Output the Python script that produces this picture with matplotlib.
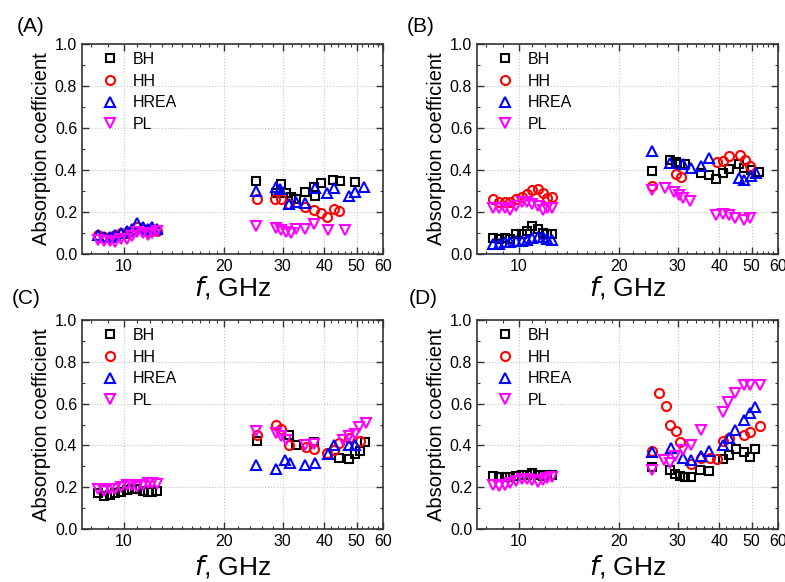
import numpy as np
import matplotlib
matplotlib.use('Agg')
import matplotlib.pyplot as plt
from matplotlib.ticker import FixedLocator, FixedFormatter, NullFormatter, MultipleLocator, FormatStrFormatter

plt.rcParams['font.family'] = ['Liberation Sans', 'DejaVu Sans']

# X-band frequencies (GHz), shared by all low-band series
LOW_F = [8.4, 8.75, 9.1, 9.45, 9.8, 10.2, 10.6, 11.0, 11.4, 11.8, 12.2, 12.6]

# (A)
A_BH_f = [25.0, 28.6, 29.6, 30.6, 31.7, 32.8, 34.9, 37.2, 37.5, 39.2, 42.5, 44.5, 49.6]
A_BH = [0.348, 0.29, 0.334, 0.29, 0.27, 0.26, 0.296, 0.32, 0.277, 0.337, 0.353, 0.348, 0.345]
A_HH_f = LOW_F + [25.2, 28.5, 29.7, 31.4, 35.0, 37.2, 39.2, 40.8, 42.8, 44.3]
A_HH = [0.09, 0.08, 0.08, 0.09, 0.10, 0.10, 0.11, 0.13, 0.12, 0.11, 0.12, 0.11] + \
       [0.262, 0.264, 0.264, 0.237, 0.225, 0.211, 0.195, 0.178, 0.212, 0.205]
A_HREA_f = LOW_F + [25.0, 28.6, 29.5, 31.4, 32.8, 35.0, 37.4, 40.8, 42.8, 47.6, 49.5, 52.8]
A_HREA = [0.09, 0.08, 0.08, 0.09, 0.10, 0.11, 0.12, 0.15, 0.13, 0.12, 0.13, 0.12] + \
         [0.30, 0.32, 0.31, 0.24, 0.25, 0.245, 0.315, 0.29, 0.315, 0.275, 0.295, 0.32]
A_PL_f = LOW_F + [25.0, 28.6, 29.6, 30.6, 31.7, 32.8, 34.9, 37.2, 41.0, 46.0]
A_PL = [0.065, 0.06, 0.06, 0.055, 0.07, 0.07, 0.085, 0.105, 0.10, 0.09, 0.10, 0.11] + \
       [0.135, 0.126, 0.113, 0.105, 0.10, 0.12, 0.118, 0.145, 0.114, 0.114]

# (B)
B_BH_f = LOW_F + [25.2, 28.5, 29.6, 30.4, 31.5, 35.2, 37.2, 39.2, 41.0, 42.7, 45.8, 47.6, 49.9, 52.8]
B_BH = [0.075, 0.07, 0.075, 0.07, 0.095, 0.095, 0.11, 0.135, 0.12, 0.10, 0.095, 0.095] + \
       [0.397, 0.448, 0.44, 0.43, 0.43, 0.387, 0.376, 0.357, 0.387, 0.405, 0.427, 0.41, 0.40, 0.392]
B_HH_f = LOW_F + [25.2, 29.6, 30.6, 39.5, 41.0, 42.8, 46.0, 47.9, 49.6]
B_HH = [0.26, 0.25, 0.25, 0.25, 0.26, 0.27, 0.285, 0.305, 0.31, 0.29, 0.265, 0.27] + \
       [0.325, 0.38, 0.365, 0.44, 0.445, 0.465, 0.47, 0.45, 0.42]
B_HREA_f = LOW_F + [25.2, 28.5, 31.2, 32.8, 35.2, 37.2, 45.8, 47.6, 49.9, 51.5]
B_HREA = [0.05, 0.05, 0.055, 0.055, 0.06, 0.06, 0.065, 0.075, 0.08, 0.08, 0.07, 0.065] + \
         [0.49, 0.432, 0.43, 0.41, 0.42, 0.456, 0.36, 0.352, 0.37, 0.385]
B_PL_f = LOW_F + [25.2, 27.4, 29.2, 30.3, 31.2, 32.7, 39.0, 41.0, 42.7, 44.6, 47.6, 49.6]
B_PL = [0.22, 0.22, 0.22, 0.21, 0.23, 0.25, 0.25, 0.24, 0.23, 0.21, 0.22, 0.22] + \
       [0.305, 0.316, 0.297, 0.28, 0.265, 0.252, 0.186, 0.19, 0.186, 0.173, 0.162, 0.173]

# (C)
C_BH_f = LOW_F + [25.2, 31.4, 32.8, 37.2, 44.2, 47.6, 49.3, 51.1, 53.1]
C_BH = [0.17, 0.16, 0.165, 0.17, 0.175, 0.185, 0.19, 0.19, 0.18, 0.175, 0.175, 0.18] + \
       [0.42, 0.448, 0.40, 0.416, 0.341, 0.336, 0.36, 0.373, 0.416]
C_HH_f = [25.2, 28.6, 29.6, 31.4, 35.2, 37.2, 40.8, 42.7, 44.2, 47.6, 51.2]
C_HH = [0.448, 0.50, 0.48, 0.40, 0.392, 0.385, 0.363, 0.376, 0.41, 0.437, 0.42]
C_HREA_f = [25.0, 28.6, 30.4, 31.5, 35.0, 37.4, 41.0, 42.8, 47.3, 49.6]
C_HREA = [0.307, 0.287, 0.328, 0.315, 0.307, 0.315, 0.36, 0.403, 0.403, 0.403]
C_PL_f = LOW_F + [25.0, 28.6, 29.6, 30.7, 35.0, 37.2, 45.6, 47.3, 49.5, 51.0, 53.2]
C_PL = [0.19, 0.18, 0.19, 0.19, 0.20, 0.21, 0.21, 0.20, 0.21, 0.22, 0.22, 0.215] + \
       [0.47, 0.459, 0.447, 0.424, 0.40, 0.405, 0.424, 0.443, 0.455, 0.487, 0.506]

# (D)
D_BH_f = LOW_F + [25.2, 28.5, 29.4, 30.4, 31.5, 32.8, 35.0, 37.2, 41.0, 42.8, 44.8, 47.6, 49.6, 51.3]
D_BH = [0.255, 0.25, 0.25, 0.25, 0.255, 0.26, 0.26, 0.27, 0.26, 0.255, 0.26, 0.26] + \
       [0.295, 0.284, 0.263, 0.252, 0.25, 0.25, 0.28, 0.276, 0.336, 0.355, 0.384, 0.367, 0.344, 0.384]
D_HH_f = [25.2, 26.3, 27.6, 28.5, 29.6, 30.4, 32.8, 35.2, 37.4, 39.4, 41.0, 42.8, 47.6, 49.6, 53.0]
D_HH = [0.371, 0.649, 0.589, 0.498, 0.471, 0.414, 0.313, 0.34, 0.34, 0.336, 0.42, 0.435, 0.448, 0.463, 0.494]
D_HREA_f = [25.2, 28.6, 31.2, 32.8, 35.2, 37.2, 41.0, 42.8, 44.6, 47.6, 49.6, 51.3]
D_HREA = [0.367, 0.387, 0.34, 0.329, 0.35, 0.375, 0.40, 0.435, 0.475, 0.522, 0.554, 0.586]
D_PL_f = LOW_F + [25.2, 27.3, 28.5, 29.4, 31.2, 32.8, 35.2, 41.0, 42.6, 44.6, 47.6, 49.6, 53.0]
D_PL = [0.21, 0.205, 0.21, 0.22, 0.23, 0.24, 0.24, 0.235, 0.225, 0.235, 0.245, 0.25] + \
       [0.284, 0.332, 0.316, 0.348, 0.38, 0.40, 0.475, 0.56, 0.61, 0.652, 0.689, 0.689, 0.689]

SERIES = ['BH', 'HH', 'HREA', 'PL']
MARKERS = ['s', 'o', '^', 'v']
MSIZES = [6.0, 6.5, 7.5, 7.5]
COLORS = ['black', 'red', 'blue', 'magenta']
PANELS = [
    ('(A)', [(A_BH_f, A_BH), (A_HH_f, A_HH), (A_HREA_f, A_HREA), (A_PL_f, A_PL)]),
    ('(B)', [(B_BH_f, B_BH), (B_HH_f, B_HH), (B_HREA_f, B_HREA), (B_PL_f, B_PL)]),
    ('(C)', [(C_BH_f, C_BH), (C_HH_f, C_HH), (C_HREA_f, C_HREA), (C_PL_f, C_PL)]),
    ('(D)', [(D_BH_f, D_BH), (D_HH_f, D_HH), (D_HREA_f, D_HREA), (D_PL_f, D_PL)]),
]

fig = plt.figure(figsize=(7.85, 5.82), dpi=100)
W, H = 785.0, 582.0
# axes boxes in pixels: left, top, width, height
boxes = [(82, 44, 301, 210), (477, 44, 301, 210), (82, 320, 301, 209), (477, 320, 301, 209)]
label_pos = [(17, 27), (407, 27), (12, 298), (409, 298)]
xlabel_pad = [0, 0, 3, 3]

for (name, data), (l, t, w, h), (lx, ly), pad in zip(PANELS, boxes, label_pos, xlabel_pad):
    ax = fig.add_axes([l / W, 1 - (t + h) / H, w / W, h / H])
    ax.set_xscale('log')
    for (f, y), lab, m, ms, c in zip(data, SERIES, MARKERS, MSIZES, COLORS):
        ax.plot(f, y, linestyle='none', marker=m, ms=ms, mfc='none', mec=c, mew=1.5, label=lab)
    ax.set_xlim(7.5, 60)
    ax.set_ylim(0, 1.0)
    ax.xaxis.set_major_locator(FixedLocator([10, 20, 30, 40, 50, 60]))
    ax.xaxis.set_minor_locator(FixedLocator([8, 9, 11, 12, 13, 14, 15, 16, 17, 18, 19,
                                             22, 24, 26, 28, 32, 34, 36, 38, 42, 44, 46, 48,
                                             52, 54, 56, 58]))
    ax.xaxis.set_major_formatter(FixedFormatter(['10', '20', '30', '40', '50', '60']))
    ax.xaxis.set_minor_formatter(NullFormatter())
    ax.yaxis.set_major_locator(MultipleLocator(0.2))
    ax.yaxis.set_minor_locator(MultipleLocator(0.1))
    ax.yaxis.set_major_formatter(FormatStrFormatter('%.1f'))
    ax.tick_params(which='both', direction='in', top=True, right=True, labelsize=11.5,
                   colors='#333333', labelcolor='black')
    ax.tick_params(which='major', length=5, width=1)
    ax.tick_params(which='minor', length=2.5, width=0.8)
    for sp in ax.spines.values():
        sp.set_color('#333333')
        sp.set_linewidth(1.2)
    ax.grid(True, which='major', linestyle=':', color='#c4c4c4', linewidth=0.8)
    ax.set_axisbelow(True)
    ax.set_ylabel('Absorption coefficient', fontsize=14.5, labelpad=3)
    ax.set_xlabel('$f$, GHz', fontsize=19, labelpad=pad)
    ax.legend(loc='upper left', bbox_to_anchor=(0.05, 0.985), frameon=False, fontsize=11.5,
              handlelength=1.0, handletextpad=0.95, labelspacing=0.42,
              borderaxespad=0.0, borderpad=0.3)
    fig.text(lx / W, 1 - ly / H, name, fontsize=15, va='center', ha='left')

fig.savefig('out.png', dpi=100)
